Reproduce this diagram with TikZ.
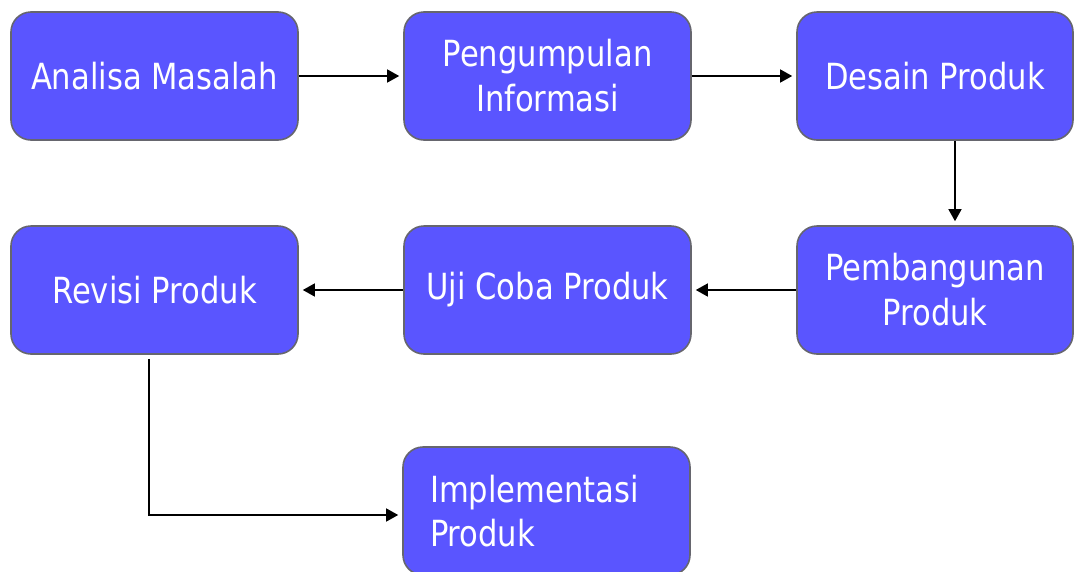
\documentclass[tikz,border=0pt]{standalone}
\usepackage{fontspec}
\setmainfont{DejaVu Sans}[FakeStretch=0.85]
\usetikzlibrary{arrows.meta}
\definecolor{boxfill}{HTML}{5A55FF}
\definecolor{boxedge}{HTML}{66666E}
\begin{document}
\begin{tikzpicture}[x=1pt,y=-1pt,
  box/.style={draw=boxedge, line width=1.6pt, fill=boxfill, rounded corners=20pt,
    minimum width=287pt, minimum height=128pt, inner sep=0pt, text=white,
    font=\fontsize{36}{45}\selectfont, align=center},
  conn/.style={line width=1.4pt, -{Triangle[length=12pt,width=13pt]}}]
\useasboundingbox (0,0) rectangle (1074,571);
\node[box] (a) at (154.5,76) {Analisa Masalah};
\node[box] (b) at (547.5,76) {Pengumpulan\\Informasi};
\node[box, minimum width=276pt] (c) at (935,76) {Desain Produk};
\node[box] (r) at (154.5,290) {Revisi Produk};
\node[box] (u) at (547.5,290) {Uji Coba Produk};
\node[box, minimum width=276pt] (p) at (935,290) {Pembangunan\\Produk};
\node[box, align=left, text width=233pt, font=\fontsize{36}{44}\selectfont] (i) at (546.5,511) {Implementasi\\Produk};
\draw[conn, shorten >=4pt] (a.east) -- (b.west);
\draw[conn, shorten >=4pt] (b.east) -- (c.west);
\draw[conn, shorten >=4pt] ([xshift=20pt]c.south) -- ([xshift=20pt]p.north);
\draw[conn, shorten >=4pt] (p.west) -- (u.east);
\draw[conn, shorten >=4pt] (u.west) -- (r.east);
\draw[conn, shorten >=4pt] ([xshift=-5.5pt,yshift=-4pt]r.south) |- ([yshift=-4pt]i.west);
\end{tikzpicture}
\end{document}
